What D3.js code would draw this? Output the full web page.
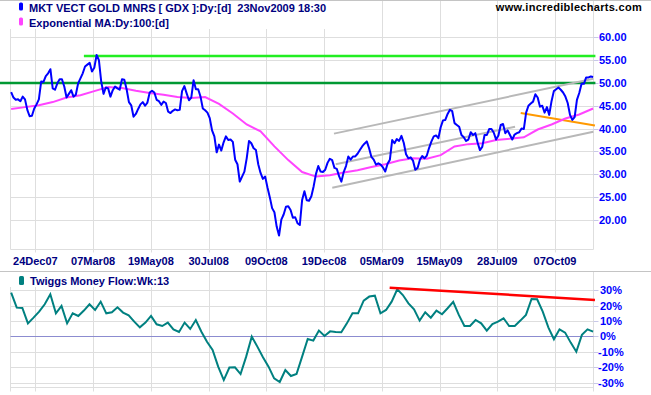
<!DOCTYPE html>
<html>
<head>
<meta charset="utf-8">
<script src="https://cdn.jsdelivr.net/npm/d3@7"></script>
<style>
  html, body { margin: 0; padding: 0; background: #fff; }
  svg { display: block; font-family: "Liberation Sans", Arial, sans-serif; }
</style>
</head>
<body>
<svg id="chart" width="651" height="395"></svg>
<script>
// GDX daily close, one reading every 2 trading days (23 Nov 2007 .. 23 Nov 2009)
const PRICE_STEP = 2
const gdxClose = [
  48.0, 46.8, 46.3, 46.4, 46.0, 47.0, 46.4, 44.1, 42.7, 42.8,
  44.4, 45.3, 46.4, 50.3, 50.2, 51.5, 52.1, 53.0, 48.8, 48.5,
  49.9, 50.8, 50.8, 49.2, 46.8, 47.6, 48.4, 47.0, 47.4, 49.9,
  51.0, 52.1, 53.6, 54.0, 54.4, 52.5, 53.3, 56.1, 55.0, 50.3,
  47.6, 49.0, 48.8, 47.0, 48.4, 49.2, 48.8, 48.5, 50.8, 50.7,
  48.6, 45.8, 45.1, 42.6, 43.2, 44.3, 45.3, 45.8, 45.0, 45.7,
  47.9, 48.3, 47.9, 46.3, 46.0, 45.2, 45.9, 45.6, 43.7, 43.4,
  43.9, 44.2, 44.0, 44.1, 48.2, 49.3, 47.7, 46.2, 46.8, 50.6,
  48.6, 48.6, 47.0, 44.4, 44.0, 43.5, 42.3, 39.6, 38.3, 34.8,
  36.5, 35.2, 37.0, 38.3, 37.5, 37.6, 37.1, 33.2, 32.2, 28.4,
  29.5, 30.6, 33.5, 37.3, 36.8, 35.7, 35.3, 32.2, 30.3, 29.0,
  29.5, 27.1, 25.0, 22.6, 21.7, 18.5, 16.6, 20.1, 21.2, 22.9,
  23.0, 22.2, 20.5, 20.6, 19.3, 18.9, 24.4, 26.3, 24.3, 24.2,
  25.2, 27.4, 30.1, 31.8, 30.6, 30.5, 31.0, 32.5, 33.4, 33.1,
  31.4, 31.2, 29.6, 28.4, 30.5, 31.8, 33.9, 33.2, 33.9, 33.9,
  34.5, 35.3, 36.1, 36.7, 37.2, 35.7, 33.8, 33.2, 32.1, 32.4,
  32.1, 31.5, 30.6, 32.3, 33.2, 37.5, 36.8, 37.7, 37.3, 38.4,
  36.9, 34.4, 33.5, 33.7, 33.0, 31.0, 31.4, 33.2, 34.0, 33.5,
  34.1, 35.8, 37.2, 38.3, 38.5, 37.9, 40.3, 41.8, 41.9, 43.2,
  44.1, 43.8, 41.2, 40.8, 40.4, 38.6, 38.1, 37.3, 37.6, 39.2,
  38.6, 39.0, 36.9, 35.3, 36.0, 38.6, 38.6, 39.9, 39.9, 39.1,
  37.6, 38.5, 40.8, 41.0, 39.0, 39.6, 38.6, 37.6, 38.7, 39.0,
  39.2, 40.0, 39.9, 43.5, 45.0, 45.5, 45.9, 47.5, 46.8, 44.8,
  45.0, 43.5, 44.7, 43.0, 46.0, 48.2, 48.6, 49.0, 48.5, 47.9,
  47.0, 45.6, 43.0, 41.9, 42.5, 46.3, 47.8, 49.8, 49.8, 51.2,
  51.2, 51.4, 51.3
]

// 100-day exponential MA, one reading every 12 trading days
const EMA_STEP = 12
const ema100 = [
  44.3, 44.7, 45.1, 45.8, 46.8, 47.3, 48.2, 49.1, 48.9, 48.3,
  47.8, 47.4, 46.9, 46.7, 46.9, 45.4, 43.3, 40.9, 39.4, 36.1,
  33.1, 30.5, 29.5, 29.8, 30.4, 30.9, 31.6, 32.2, 33.0, 33.5,
  33.4, 34.2, 36.1, 36.6, 36.8, 37.5, 37.8, 38.1, 39.8, 40.9,
  42.2, 43.1, 44.4
]

// Twiggs Money Flow (13 week), weekly readings in %
const tmfWeekly = [
  28.4, 18.6, 18.4, 8.4, 12.1, 16.0, 20.8, 27.3, 14.9, 19.7,
  8.4, 14.9, 13.2, 16.7, 20.8, 17.1, 22.5, 14.9, 15.6, 18.8,
  15.4, 13.6, 9.5, 5.8, 8.9, 13.2, 7.8, 6.7, 8.9, 4.5,
  2.8, 8.9, 4.8, 10.6, 3.0, -3.5, -8.9, -19.7, -28.4, -20.3,
  -20.1, -24.5, -13.2, -0.2, -6.7, -13.6, -19.7, -27.3, -29.7, -21.9,
  -25.8, -24.5, -13.2, -1.7, -2.8, 3.7, 0.2, 3.2, 2.8, 2.6,
  8.4, 14.9, 14.9, 23.2, 25.8, 26.4, 14.9, 17.1, 22.5, 30.5,
  26.8, 21.4, 17.5, 10.2, 15.6, 12.1, 16.7, 14.3, 18.2, 22.3,
  13.9, 6.7, 6.7, 10.6, 8.4, 3.7, 8.0, 9.5, 11.7, 6.7,
  6.7, 10.2, 13.9, 24.2, 24.0, 16.0, 5.8, -1.9, 4.5, 2.4,
  -4.1, -10.0, 0.9, 4.5, 3.0
]

const LAST_DAY = 504
const tickDays = [21, 71, 121, 171, 221, 271, 321, 371, 421, 471]
const tickLabels = ["24Dec07", "07Mar08", "19May08", "30Jul08", "09Oct08",
                    "19Dec08", "05Mar09", "15May09", "28Jul09", "07Oct09"]
const priceTicks = [20, 25, 30, 35, 40, 45, 50, 55, 60]
const tmfTicks = [-30, -20, -10, 0, 10, 20, 30]

// hand-drawn trendlines: [trading day, value]
const resistanceLow = [[-10, 50], [506, 50]]
const resistanceHigh = [[63, 55.9], [506, 55.9]]
const channelTop = [[279.6, 38.9], [504.2, 50.9]]
const channelMid = [[281.1, 32.2], [436.4, 40.4]]
const channelBottom = [[278.1, 27.05], [504.2, 39.3]]
const supportLine = [[441.3, 43.4], [505.6, 40.7]]
const tmfDivergence = [[327.8, 31.6], [505.6, 23.6]]

const svg = d3.select("#chart")
const W = 651, H = 395
const plotL = 10.5, plotR = 593.5
const mainTop = 1, mainBottom = 249.5
const subTop = 272, subBottom = 387.5
const GRID = "#dedede"

const x = d3.scaleLinear().domain([0, LAST_DAY]).range([11.15, 593.1])
const y = d3.scaleLinear().domain([20, 60]).range([220, 37.2])
const yt = d3.scaleLinear().domain([-30, 30]).range([382.5, 290.1])

const crisp = v => Math.round(v) + 0.5

// frame lines
svg.append("g").selectAll("line")
  .data([0.5, 271.5])
  .join("line")
  .attr("x1", 0).attr("x2", W)
  .attr("y1", d => d).attr("y2", d => d)
  .attr("stroke", "#c4c4c4")

// ---- main panel grid ----
const grid = svg.append("g").attr("stroke", GRID).attr("stroke-width", 1)
grid.selectAll(".vx").data(tickDays).join("line")
  .attr("x1", d => crisp(x(d))).attr("x2", d => crisp(x(d)))
  .attr("y1", mainTop).attr("y2", mainBottom + 3)
grid.selectAll(".hy").data(priceTicks).join("line")
  .attr("x1", plotL).attr("x2", plotR)
  .attr("y1", d => crisp(y(d))).attr("y2", d => crisp(y(d)))
grid.append("line").attr("x1", plotL).attr("x2", plotL).attr("y1", mainTop).attr("y2", mainBottom)
grid.append("line").attr("x1", plotR).attr("x2", plotR).attr("y1", mainTop).attr("y2", mainBottom)
grid.append("line").attr("x1", plotL).attr("x2", plotR).attr("y1", mainBottom).attr("y2", mainBottom)

svg.append("g").attr("stroke", "#c8c8e8")
  .selectAll("line").data(priceTicks).join("line")
  .attr("x1", plotR).attr("x2", plotR + 5)
  .attr("y1", d => crisp(y(d))).attr("y2", d => crisp(y(d)))

// legend background
svg.append("rect").attr("x", 0).attr("y", 1).attr("width", 330).attr("height", 28).attr("fill", "#fff")

const line = d3.line().x(d => x(d[0])).y(d => y(d[1]))
const drawSeg = (pts, color, w) =>
  svg.append("path").attr("d", line(pts)).attr("fill", "none")
    .attr("stroke", color).attr("stroke-width", w)

drawSeg(resistanceLow, "#009933", 2.5)
drawSeg(resistanceHigh, "#22ee22", 2.5)
drawSeg(channelTop, "#b8b8b8", 2)
drawSeg(channelMid, "#b8b8b8", 2)
drawSeg(channelBottom, "#b8b8b8", 2)
drawSeg(supportLine, "#ff9900", 2)

drawSeg(ema100.map((v, i) => [i * EMA_STEP, v]), "#ff44ff", 2)
drawSeg(gdxClose.map((v, i) => [Math.min(i * PRICE_STEP, LAST_DAY), v]), "#0000ff", 2)
  .attr("stroke-linejoin", "round")

// price axis labels
svg.append("g").selectAll("text").data(priceTicks).join("text")
  .attr("x", 599).attr("y", d => y(d) + 4)
  .attr("fill", "#0000ff").attr("font-size", 11).attr("font-weight", "bold")
  .text(d => d.toFixed(2))

// date labels
svg.append("g").selectAll("text").data(tickDays).join("text")
  .attr("x", d => x(d)).attr("y", 265)
  .attr("text-anchor", "middle")
  .attr("fill", "#000080").attr("font-size", 11).attr("font-weight", "bold")
  .text((d, i) => tickLabels[i])

// legend
const legend = [
  { color: "#0000ff", text: "MKT VECT GOLD MNRS [ GDX ]:Dy:[d]  23Nov2009 18:30", y: 11.5 },
  { color: "#ff44ff", text: "Exponential MA:Dy:100:[d]", y: 26.5 }
]
legend.forEach(l => {
  svg.append("rect").attr("x", 19).attr("y", l.y - 9).attr("width", 4).attr("height", 8)
    .attr("rx", 1.5).attr("fill", l.color)
  svg.append("text").attr("x", 29).attr("y", l.y)
    .attr("fill", "#000080").attr("font-size", 11).attr("font-weight", "bold")
    .style("white-space", "pre").text(l.text)
})

svg.append("text").attr("x", 642).attr("y", 11).attr("text-anchor", "end")
  .attr("fill", "#000").attr("font-size", 11).attr("font-weight", "bold")
  .attr("letter-spacing", 0.3)
  .text("www.incrediblecharts.com")

// ---- Twiggs money flow panel ----
const grid2 = svg.append("g").attr("stroke", GRID).attr("stroke-width", 1)
grid2.selectAll(".vx").data(tickDays).join("line")
  .attr("x1", d => crisp(x(d))).attr("x2", d => crisp(x(d)))
  .attr("y1", subTop).attr("y2", subBottom + 4)
grid2.selectAll(".hy").data(tmfTicks.filter(d => d !== 0)).join("line")
  .attr("x1", plotL).attr("x2", plotR)
  .attr("y1", d => crisp(yt(d))).attr("y2", d => crisp(yt(d)))
grid2.append("line").attr("x1", plotL).attr("x2", plotL).attr("y1", subTop).attr("y2", subBottom + 4)
grid2.append("line").attr("x1", plotR).attr("x2", plotR).attr("y1", subTop).attr("y2", subBottom + 4)
grid2.append("line").attr("x1", plotL).attr("x2", plotR).attr("y1", subBottom).attr("y2", subBottom)

svg.append("g").attr("stroke", "#c8c8e8")
  .selectAll("line").data(tmfTicks).join("line")
  .attr("x1", plotR).attr("x2", plotR + 5)
  .attr("y1", d => crisp(yt(d))).attr("y2", d => crisp(yt(d)))

svg.append("line").attr("x1", plotL).attr("x2", plotR)
  .attr("y1", crisp(yt(0))).attr("y2", crisp(yt(0)))
  .attr("stroke", "#8c8cd0")

svg.append("rect").attr("x", 0).attr("y", 272).attr("width", 178).attr("height", 15).attr("fill", "#fff")

const tmfLine = d3.line()
  .x((d, i) => x(i * LAST_DAY / (tmfWeekly.length - 1)))
  .y(d => yt(d))
svg.append("path").attr("d", tmfLine(tmfWeekly)).attr("fill", "none")
  .attr("stroke", "#008080").attr("stroke-width", 2)

svg.append("path")
  .attr("d", d3.line().x(d => x(d[0])).y(d => yt(d[1]))(tmfDivergence))
  .attr("fill", "none").attr("stroke", "#ff0000").attr("stroke-width", 2.5)

svg.append("g").selectAll("text").data(tmfTicks).join("text")
  .attr("x", d => d < 0 ? 598 : 600).attr("y", d => yt(d) + 4)
  .attr("fill", "#0000ff").attr("font-size", 11).attr("font-weight", "bold")
  .text(d => d + "%")

svg.append("rect").attr("x", 19).attr("y", 276).attr("width", 5).attr("height", 9)
  .attr("rx", 1.5).attr("fill", "#008080")
svg.append("text").attr("x", 30).attr("y", 285)
  .attr("fill", "#000080").attr("font-size", 11).attr("font-weight", "bold")
  .text("Twiggs Money Flow:Wk:13")
</script>
</body>
</html>
